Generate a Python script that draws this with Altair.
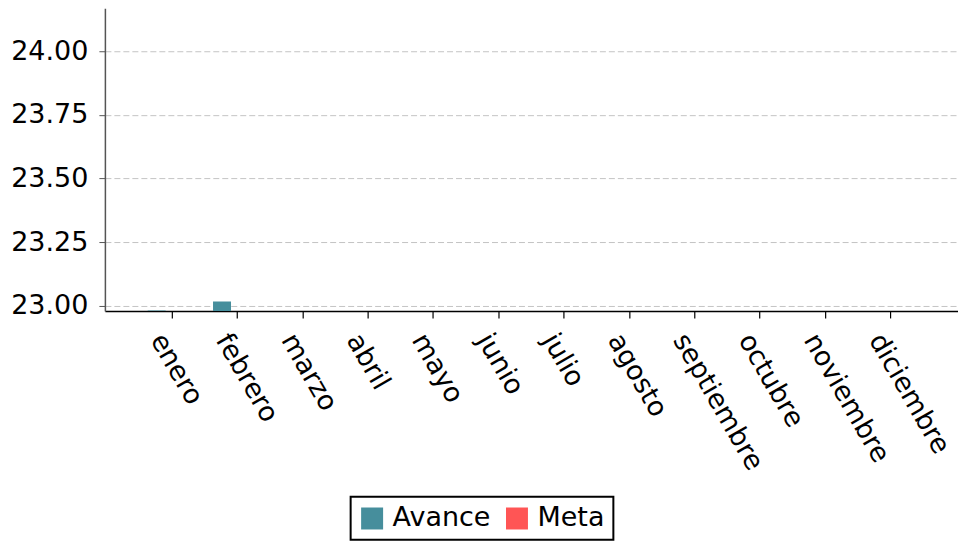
import altair as alt
import pandas as pd

months = ["enero", "febrero", "marzo", "abril", "mayo", "junio", "julio",
          "agosto", "septiembre", "octubre", "noviembre", "diciembre"]
avance = [22.9825, 23.018, None, None, None, None, None, None, None, None, None, None]
meta = [None, None, None, None, None, None, None, None, None, None, None, None]
series = ["Avance", "Meta"]
colors = ["#468E9C", "#FF5555"]
y_ticks = [23.0, 23.25, 23.5, 23.75, 24.0]
y_domain = [22.9804, 24.1686]

rows = []
for m, a, mt in zip(months, avance, meta):
    rows.append({"mes": m, "serie": "Avance", "valor": a})
    rows.append({"mes": m, "serie": "Meta", "valor": mt})
df = pd.DataFrame(rows)

FONT = "DejaVu Sans"
FS = 27

x_enc = alt.X(
    "mes:N",
    sort=months,
    scale=alt.Scale(domain=months, paddingInner=0, paddingOuter=0.53),
    axis=alt.Axis(
        title=None, grid=False, labelAngle=60, labelAlign="left",
        labelBaseline="top", labelOffset=-4, labelPadding=11,
        labelFontSize=FS, labelFont=FONT, labelColor="black",
        tickColor="black", tickSize=7, tickWidth=1.2,
        domainColor="black", domainWidth=1.5, labelOverlap=False,
    ),
)
y_enc = alt.Y(
    "valor:Q",
    scale=alt.Scale(domain=y_domain, zero=False, nice=False),
    axis=alt.Axis(
        title=None, values=y_ticks, format=".2f", grid=True,
        gridColor="#c4c4c4", gridDash=[6, 3], gridWidth=1,
        labelFontSize=FS, labelFont=FONT, labelColor="black",
        tickColor="#555555", tickSize=6, labelPadding=11,
        domainColor="#555555", domainWidth=1.5,
    ),
)
color_enc = alt.Color(
    "serie:N",
    scale=alt.Scale(domain=series, range=colors),
    legend=alt.Legend(
        title=None, orient="none", legendX=246, legendY=489,
        direction="horizontal", symbolType="square", symbolSize=484,
        symbolStrokeWidth=0, labelFontSize=FS, labelFont=FONT,
        labelColor="black", strokeColor="black", padding=8,
        labelOffset=7, columnPadding=13,
    ),
)

base = alt.Chart(df)
avance_layer = base.transform_filter(alt.datum.serie == "Avance").mark_bar(
    size=18, xOffset=-15.5, clip=True
).encode(x=x_enc, y=y_enc, color=color_enc)
meta_layer = base.transform_filter(alt.datum.serie == "Meta").mark_bar(
    size=18, xOffset=2.5, clip=True
).encode(x=x_enc, y=y_enc, color=color_enc)

chart = alt.layer(avance_layer, meta_layer).properties(
    width=854, height=303,
    autosize=alt.AutoSizeParams(type="none"),
    padding={"left": 97, "top": 0, "right": 0, "bottom": 230},
).configure_view(stroke=None).configure_legend(strokeWidth=2)

chart.save("out.html", embed_options={"renderer": "svg", "actions": False})
